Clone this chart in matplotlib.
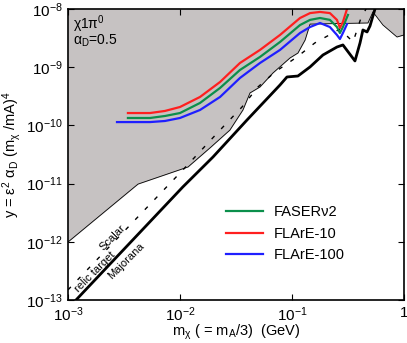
import matplotlib
matplotlib.use("Agg")
import matplotlib.pyplot as plt

plt.rcParams['font.family'] = ['Liberation Sans', 'DejaVu Sans']
plt.rcParams['mathtext.fontset'] = 'custom'
plt.rcParams['mathtext.rm'] = 'Liberation Sans'
plt.rcParams['mathtext.it'] = 'Liberation Sans'
plt.rcParams['mathtext.default'] = 'rm'

# excluded region (lower edge of grey area)
excl_m = [1e-3, 4.22e-3, 1.18e-2, 1.85e-2, 2.79e-2, 3.65e-2, 4.22e-2, 5.18e-2,
          6.76e-2, 9.6e-2, 0.113, 0.131, 0.145, 0.477, 0.528, 0.649, 0.866, 1.0]
excl_y = [9.9e-13, 9.8e-12, 1.93e-11, 4.09e-11, 8.3e-11, 1.84e-10, 3.61e-10, 4.57e-10,
          7.95e-10, 1.44e-9, 1.75e-9, 2.93e-9, 5.5e-9, 5.75e-9, 8.9e-9, 5.3e-9, 3.3e-9, 3.58e-9]

# relic targets
maj_m = [1.18e-3, 1.06e-2, 1.97e-2, 3.97e-2, 7.82e-2, 9.02e-2, 0.113, 0.145, 0.189,
         0.252, 0.285, 0.365, 0.405, 0.430, 0.468, 0.497, 0.551, 0.58]
maj_y = [1e-13, 8.75e-12, 2.86e-11, 1.24e-10, 4.95e-10, 6.79e-10, 7.05e-10, 1.01e-9, 1.62e-9,
         2.22e-9, 2.41e-9, 1.28e-9, 2.61e-9, 4.36e-9, 4.03e-9, 5.1e-9, 1e-8, 1.3e-8]

sca_m = [1e-3, 1.06e-2, 1.78e-2, 2.52e-2, 3.58e-2, 4.97e-2, 7.05e-2, 0.111, 0.160,
         0.232, 0.268, 0.351, 0.413, 0.458, 0.48]
sca_y = [1.49e-13, 1.71e-11, 4.99e-11, 1.02e-10, 2.07e-10, 4.57e-10, 8.28e-10, 1.5e-9, 2.61e-9,
         3.87e-9, 4.53e-9, 2.71e-9, 7.0e-9, 1e-8, 1.2e-8]

# sensitivity curves
m_grid = [5.40e-3, 7.34e-3, 1.0e-2, 1.51e-2, 2.28e-2, 3.43e-2, 5.18e-2, 7.82e-2,
          0.118, 0.145, 0.178, 0.218, 0.252, 0.268, 0.285]
faser_m = [3.43e-3] + m_grid + [0.316]
faser_y = [1.34e-10, 1.34e-10, 1.45e-10, 1.63e-10, 2.43e-10, 4.4e-10, 8.95e-10, 1.5e-9, 2.71e-9,
           5.3e-9, 6.5e-9, 7.0e-9, 6.5e-9, 4.9e-9, 3.87e-9, 4.9e-9, 7.9e-9]
flare10_m = [3.43e-3] + m_grid + [0.310, 0.32]
flare10_y = [1.63e-10, 1.63e-10, 1.77e-10, 2.07e-10, 3.08e-10, 5.57e-10, 1.18e-9, 1.98e-9, 3.58e-9,
             7.0e-9, 8.5e-9, 8.9e-9, 8.5e-9, 6.5e-9, 4.72e-9, 6.0e-9, 1e-8, 1.3e-8]
flare100_m = [2.74e-3] + m_grid + [0.310]
flare100_y = [1.14e-10, 1.14e-10, 1.19e-10, 1.34e-10, 1.84e-10, 3.08e-10, 6.52e-10, 1.18e-9, 1.98e-9,
              3.87e-9, 4.9e-9, 5.75e-9, 4.9e-9, 3.58e-9, 3.05e-9, 3.87e-9, 5.5e-9]

xticks = [1e-3, 1e-2, 1e-1, 1]
xticklabels = [r'$10^{-3}$', r'$10^{-2}$', r'$10^{-1}$', '1']
yticks = [1e-13, 1e-12, 1e-11, 1e-10, 1e-9, 1e-8]
yticklabels = [r'$10^{-13}$', r'$10^{-12}$', r'$10^{-11}$', r'$10^{-10}$', r'$10^{-9}$', r'$10^{-8}$']

fig = plt.figure(figsize=(4.07, 3.43), dpi=100)
ax = fig.add_axes([0.167, 0.1254, 0.8256, 0.8484])
ax.set_xscale('log')
ax.set_yscale('log')
ax.set_xlim(1e-3, 1)
ax.set_ylim(1e-13, 1e-8)

ax.fill_between(excl_m, excl_y, 1e-8, color='#c6c2c2', lw=0)
ax.plot(excl_m, excl_y, color='black', lw=0.6)
ax.plot(sca_m, sca_y, color='black', lw=1.0, dashes=(3, 7))
ax.plot(maj_m, maj_y, color='black', lw=2.0)

ax.plot(faser_m, faser_y, color='#0b8f4b', lw=1.6, label='FASERν2')
ax.plot(flare10_m, flare10_y, color='#ff1f1f', lw=1.6, label='FLArE-10')
ax.plot(flare100_m, flare100_y, color='#1f1fff', lw=1.6, label='FLArE-100')

ax.text(1.12e-3, 4.6e-9, r'$\chi1\pi^0$', fontsize=10, va='baseline')
ax.text(1.12e-3, 2.45e-9, r'$\alpha_D$=0.5', fontsize=10, va='baseline')

ax.text(1.74e-3, 3.03e-13, 'relic target', fontsize=8, rotation=45,
        rotation_mode='anchor', ha='center', va='center')
ax.text(2.52e-3, 1.16e-12, 'Scalar', fontsize=8, rotation=45,
        rotation_mode='anchor', ha='center', va='center')
ax.text(3.30e-3, 4.68e-13, 'Majorana', fontsize=8, rotation=45,
        rotation_mode='anchor', ha='center', va='center')

ax.set_xticks(xticks)
ax.set_xticklabels(xticklabels)
ax.set_yticks(yticks)
ax.set_yticklabels(yticklabels)
ax.minorticks_off()
ax.tick_params(direction='in', top=True, right=True, length=4, width=0.8,
               labelsize=11, pad=4)
for s in ax.spines.values():
    s.set_linewidth(1.2)

ax.set_xlabel(r'$m_\chi$ ( = $m_A$/3)  (GeV)', fontsize=10.5, labelpad=-1)
ax.set_ylabel(r'y = $\epsilon^2\ \alpha_D\ (m_\chi\ /mA)^4$', fontsize=10.5, labelpad=2)

ax.legend(loc='upper left', bbox_to_anchor=(0.43, 0.37), frameon=False,
          fontsize=10.5, handlelength=2.6, handletextpad=0.7, labelspacing=0.5)

fig.savefig('out.png', dpi=100)
